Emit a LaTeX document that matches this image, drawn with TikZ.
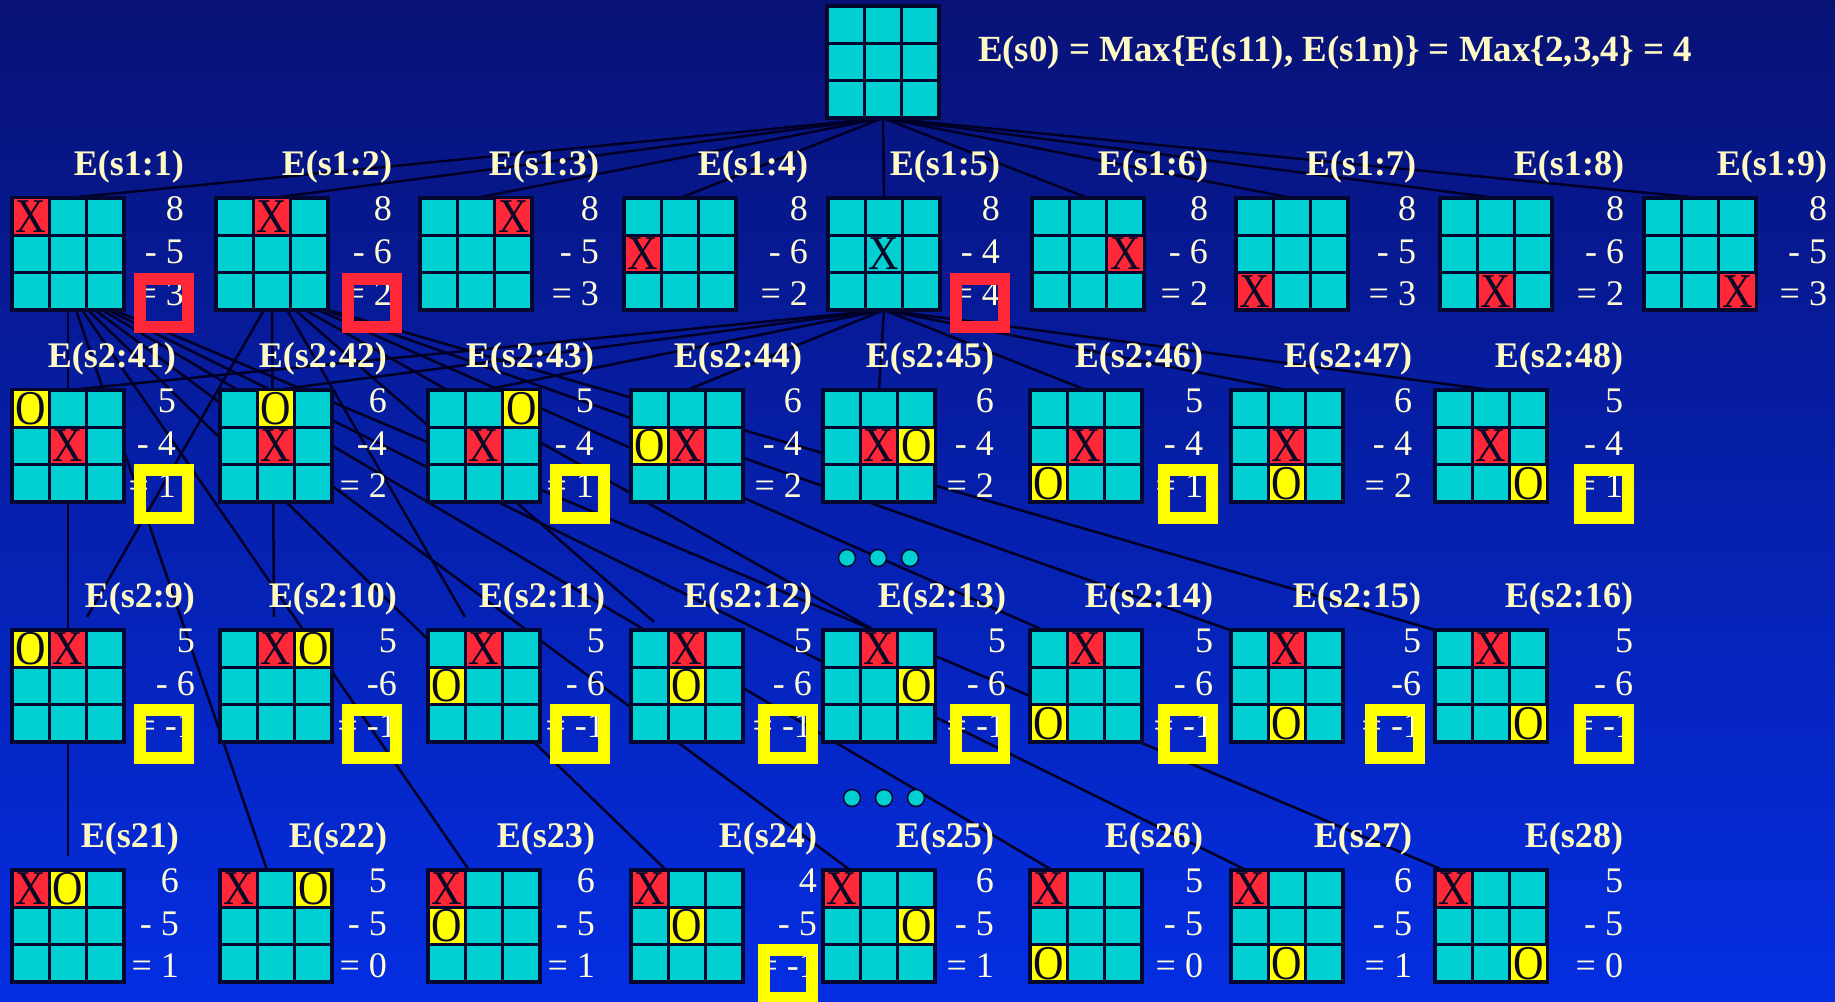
\documentclass[tikz,border=0pt]{standalone}
\usepackage{fontspec}
\setmainfont{Liberation Serif}
\usepackage{graphicx}
\usetikzlibrary{calc,positioning}
\definecolor{bgtop}     {RGB}{8,18,118}
\definecolor{bgbot}     {RGB}{4,46,226}
\definecolor{cellcyan}  {RGB}{0,208,210}
\definecolor{markred}   {RGB}{255,40,56}
\definecolor{markyellow}{RGB}{255,255,0}
\definecolor{gridink}   {RGB}{4,8,48}
\definecolor{markink}   {RGB}{10,10,40}
\definecolor{labelcream}{RGB}{255,250,196}
\definecolor{numcream}  {RGB}{255,252,214}
\pgfdeclarelayer{back}
\pgfdeclarelayer{links}
\pgfsetlayers{back,links,main}

\newcommand{\tallmark}[1]{\scalebox{1}[1.15]{#1}}
% board: name, left, top (1 unit = 1 px of the slide)
\newcommand{\board}[3]{%
  \node[board] (#1) at ({#2+56},{#3+56}) {};
  \draw[gridln] ({#2+37.33},#3) -- +(0,112) ({#2+74.67},#3) -- +(0,112)
                (#2,{#3+37.33}) -- +(112,0) (#2,{#3+74.67}) -- +(112,0);
}
% moves on a board: name, left, top, row/col/colour/letter
\newcommand{\boardmoves}[4]{%
  \edef\movelist{#4}%
  \foreach \rr/\cc/\ks/\ch in \movelist {
    \fill[fill=\ks] ({#2+(\cc-1)*37.33+1.5},{#3+(\rr-1)*37.33+1.5}) rectangle +(34.33,34.33);
    \node[glyph] (#1-\rr\cc) at ({#2+(\cc-0.5)*37.33},{#3+(\rr-0.5)*37.33}) {\tallmark{\ch}};
  }
}
% score: name, right x, board top, label, three lines
\newcommand{\boardscore}[7]{%
  \node[lbl] (#1-lab) at (#2,{#3-31}) {#4};
  \node[num] (#1-a) at (#2,{#3+11}) {#5};
  \node[num] (#1-b) at (#2,{#3+54}) {#6};
  \node[num] (#1-c) at (#2,{#3+96}) {#7};
}

\begin{document}
\begin{tikzpicture}[x=0.2mm,y=-0.2mm,
  every node/.style={inner sep=0pt,outer sep=0pt},
  board/.style={draw=gridink,line width=0.65mm,fill=cellcyan,minimum size=22.4mm},
  gridln/.style={draw=gridink,line width=0.65mm},
  glyph/.style={text=markink,font=\fontsize{24}{26}\selectfont},
  lbl/.style={anchor=east,text=labelcream,font=\fontsize{20.5}{22}\selectfont\bfseries},
  num/.style={anchor=east,text=numcream,font=\fontsize{20.5}{22}\selectfont},
  title/.style={anchor=west,text=labelcream,font=\fontsize{21}{24}\selectfont\bfseries},
  link/.style={draw=black!85!blue,line width=0.5mm},
  bestbox/.style={draw=markred,line width=2.4mm,minimum size=9.6mm},
  worstbox/.style={draw=markyellow,line width=2.4mm,minimum size=9.6mm},
  gapdot/.style={circle,draw=gridink,line width=0.3mm,fill=cellcyan,minimum size=3.4mm},
]

%% ── Slide background ─────────────────────────────────────────────────────
\begin{pgfonlayer}{back}
  \shade[top color=bgtop,bottom color=bgbot] (0,0) rectangle (1835,1002);
\end{pgfonlayer}
\useasboundingbox (0,0) rectangle (1835,1002);

%% ── Root and its value ───────────────────────────────────────────────────
\board{s0}{827}{6}
\node[title] (eq) at (978,53) {E(s0) = Max\{E(s11), E(s1n)\} = Max\{2,3,4\} = 4};

%% ── First ply: X moves ───────────────────────────────────────────────────
\foreach \i/\x/\rx/\mk/\lo/\eq in {
    1/12/184/{1/1/markred/X}/5/3,
    2/216/392/{1/2/markred/X}/6/2,
    3/420/599/{1/3/markred/X}/5/3,
    4/624/808/{2/1/markred/X}/6/2,
    5/828/1000/{2/2/cellcyan/X}/4/4,
    6/1032/1208/{2/3/markred/X}/6/2,
    7/1236/1416/{3/1/markred/X}/5/3,
    8/1440/1624/{3/2/markred/X}/6/2,
    9/1644/1827/{3/3/markred/X}/5/3}{
  \board{s1-\i}{\x}{198}
  \boardmoves{s1-\i}{\x}{198}{\mk}
  \boardscore{s1-\i}{\rx}{198}{E(s1:\i)}{8}{- \lo}{= \eq}
}

%% ── Second ply under E(s1:5) ─────────────────────────────────────────────
\foreach \i/\x/\rx/\mk/\hi/\lo/\eq in {
    41/12/176/{2/2/markred/X,1/1/markyellow/O}/5/- 4/= 1,
    42/220/387/{2/2/markred/X,1/2/markyellow/O}/6/-4/= 2,
    43/428/594/{2/2/markred/X,1/3/markyellow/O}/5/- 4/= 1,
    44/631/802/{2/2/markred/X,2/1/markyellow/O}/6/- 4/= 2,
    45/823/994/{2/2/markred/X,2/3/markyellow/O}/6/- 4/= 2,
    46/1030/1203/{2/2/markred/X,3/1/markyellow/O}/5/- 4/= 1,
    47/1231/1412/{2/2/markred/X,3/2/markyellow/O}/6/- 4/= 2,
    48/1435/1623/{2/2/markred/X,3/3/markyellow/O}/5/- 4/= 1}{
  \board{s2-\i}{\x}{390}
  \boardmoves{s2-\i}{\x}{390}{\mk}
  \boardscore{s2-\i}{\rx}{390}{E(s2:\i)}{\hi}{\lo}{\eq}
}

%% ── Second ply under E(s1:2) ─────────────────────────────────────────────
\foreach \i/\x/\rx/\mk/\lo in {
    9/12/195/{1/2/markred/X,1/1/markyellow/O}/- 6,
    10/220/397/{1/2/markred/X,1/3/markyellow/O}/-6,
    11/428/605/{1/2/markred/X,2/1/markyellow/O}/- 6,
    12/631/812/{1/2/markred/X,2/2/markyellow/O}/- 6,
    13/823/1006/{1/2/markred/X,2/3/markyellow/O}/- 6,
    14/1030/1213/{1/2/markred/X,3/1/markyellow/O}/- 6,
    15/1231/1421/{1/2/markred/X,3/2/markyellow/O}/-6,
    16/1435/1633/{1/2/markred/X,3/3/markyellow/O}/- 6}{
  \board{s2-\i}{\x}{630}
  \boardmoves{s2-\i}{\x}{630}{\mk}
  \boardscore{s2-\i}{\rx}{630}{E(s2:\i)}{5}{\lo}{= -1}
}

%% ── Second ply under E(s1:1) ─────────────────────────────────────────────
\foreach \i/\x/\rx/\mk/\hi/\eq in {
    1/12/179/{1/1/markred/X,1/2/markyellow/O}/6/= 1,
    2/220/387/{1/1/markred/X,1/3/markyellow/O}/5/= 0,
    3/428/595/{1/1/markred/X,2/1/markyellow/O}/6/= 1,
    4/631/817/{1/1/markred/X,2/2/markyellow/O}/4/= -1,
    5/823/994/{1/1/markred/X,2/3/markyellow/O}/6/= 1,
    6/1030/1203/{1/1/markred/X,3/1/markyellow/O}/5/= 0,
    7/1231/1412/{1/1/markred/X,3/2/markyellow/O}/6/= 1,
    8/1435/1623/{1/1/markred/X,3/3/markyellow/O}/5/= 0}{
  \board{s2\i}{\x}{870}
  \boardmoves{s2\i}{\x}{870}{\mk}
  \boardscore{s2\i}{\rx}{870}{E(s2\i)}{\hi}{- 5}{\eq}
}

%% ── Elided siblings ──────────────────────────────────────────────────────
\foreach \k/\x in {1/847,2/878,3/910} \node[gapdot] (gapa\k) at (\x,558) {};
\foreach \k/\x in {1/852,2/884,3/916} \node[gapdot] (gapb\k) at (\x,798) {};

%% ── Connections (behind the boards) ──────────────────────────────────────
\begin{pgfonlayer}{links}
  \foreach \i in {1,...,9} \draw[link] (s0.south) -- (s1-\i.north);
  \foreach \i in {41,...,48} \draw[link] (s1-5.south) -- (s2-\i.north);
  %% E(s1:2) fans out from its lower edge
  \foreach \i/\a/\dx/\dy in {9/-8/19/-13, 10/0/-2/-13, 11/15/-19/-13,
      12/23/-33/-8, 13/33/-5/0, 14/46/-43/0, 15/53/-57/0, 16/56/-56/0}
    \draw[link] ($(s1-2.south)+(\a,0)$) -- ($(s2-\i.north)+(\dx,\dy)$);
  %% E(s1:1) reaches down to the bottom row
  \foreach \i/\a/\dx/\dy in {1/0/0/-14, 2/8/-9/0, 3/14/-15/0, 4/20/-21/0,
      5/27/-29/0, 6/34/-34/0, 7/40/-41/0, 8/46/-48/0}
    \draw[link] ($(s1-1.south)+(\a,0)$) -- ($(s2\i.north)+(\dx,\dy)$);
\end{pgfonlayer}

%% ── Highlighted values ───────────────────────────────────────────────────
\node[bestbox] (best1) at (164,303) {};
\node[bestbox] (best2) at (372,303) {};
\node[bestbox] (best5) at (980,303) {};
\foreach \i/\x in {41/164,43/580,46/1188,48/1604}
  \node[worstbox] (low\i) at (\x,494) {};
\foreach \i/\x in {9/164,10/372,11/580,12/788,13/980,14/1188,15/1395,16/1604}
  \node[worstbox] (low\i) at (\x,734) {};
\node[worstbox] (low24) at (788,974) {};

\end{tikzpicture}
\end{document}
